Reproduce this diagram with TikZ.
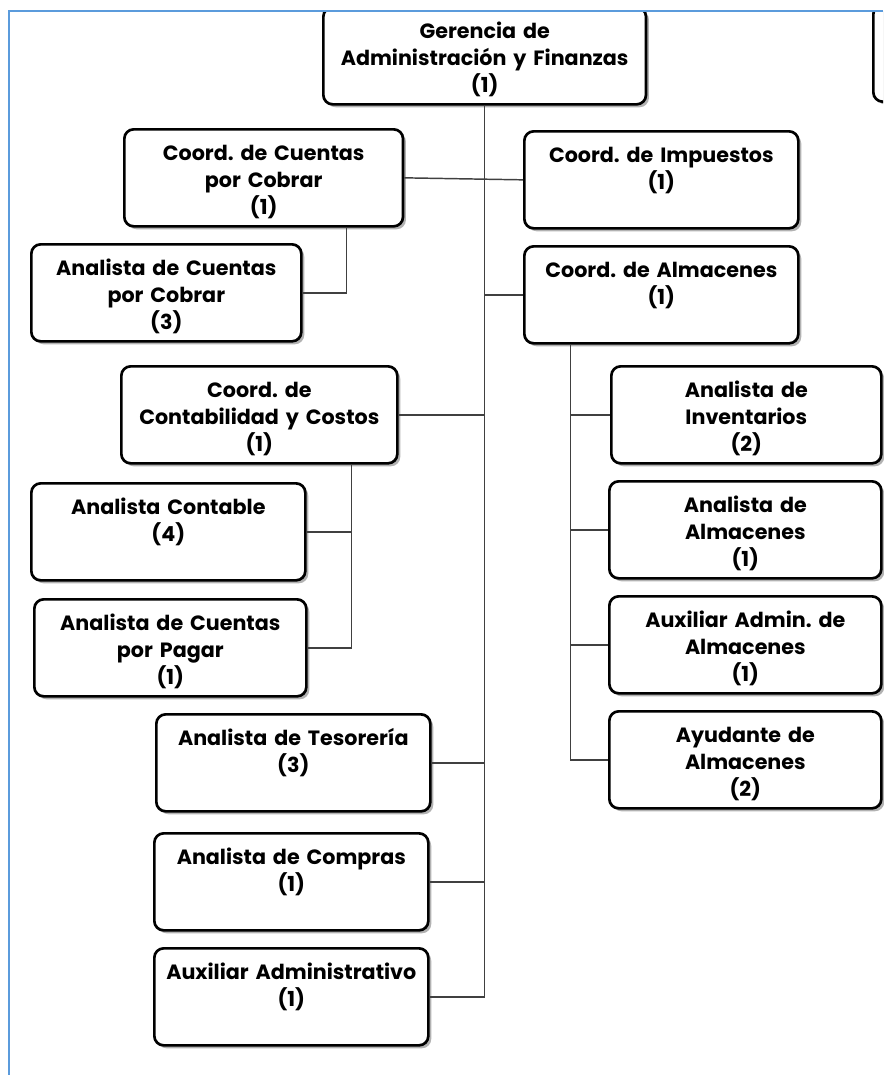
\documentclass[tikz,border=0pt]{standalone}
\usepackage{fontspec}
\setmainfont{Poppins}
\usepackage{tikz}
\usetikzlibrary{shadows}
\definecolor{framecol}{RGB}{91,155,220}
\frenchspacing

\begin{document}
\begin{tikzpicture}[x=0.75pt, y=-0.75pt]
% Define styles
\tikzstyle{box} = [rectangle, draw, line width=2pt, rounded corners=7pt, fill=white, anchor=north west, inner sep=0pt, minimum width=205.5pt, text width=200pt, align=center, text height=23.25pt, text depth=49.5pt, font=\bfseries\fontsize{15.5}{20.25}\selectfont, drop shadow={shadow xshift=2.2pt, shadow yshift=-2.2pt, fill=black!55, opacity=0.55}]
\tikzstyle{link} = [line width=1.1pt, black!75]
\tikzstyle{frame} = [line width=1.5pt, framecol]

\useasboundingbox (0,0) rectangle (883,1075);

% Top row (cut by the frame)
\begin{scope}
\clip (9,11) rectangle (883,1075);
\node [box, minimum width=242pt, text width=236pt] (ger) at (322,6) {Gerencia de\\Administración y Finanzas\\(1)};
\node [box, anchor=south west] (next) at (872,103) {};
\end{scope}

% Coordinations and analysts
\node [box, minimum width=209pt] (cxc) at (123,128) {Coord. de Cuentas\\por Cobrar\\(1)};
\node [box] (imp) at (523,130) {Coord. de Impuestos\\(1)};
\node [box, minimum width=202.5pt] (acxc) at (30,243) {Analista de Cuentas\\por Cobrar\\(3)};
\node [box] (alm) at (523,245) {Coord. de Almacenes\\(1)};
\node [box, minimum width=207pt] (cont) at (120,365) {Coord. de\\Contabilidad y Costos\\(1)};
\node [box, minimum width=202.5pt] (inv) at (610,365) {Analista de\\Inventarios\\(2)};
\node [box, minimum width=205.5pt] (acont) at (30,482) {Analista Contable\\(4)};
\node [box, minimum width=204pt] (alma) at (608,480) {Analista de\\Almacenes\\(1)};
\node [box, minimum width=204pt] (acxp) at (33,598) {Analista de Cuentas\\por Pagar\\(1)};
\node [box, minimum width=204pt] (auxalm) at (608,595) {Auxiliar Admin. de\\Almacenes\\(1)};
\node [box, minimum width=204pt] (ayud) at (608,710) {Ayudante de\\Almacenes\\(2)};
\node [box] (tes) at (155,713) {Analista de Tesorería\\(3)};
\node [box] (comp) at (153,832) {Analista de Compras\\(1)};
\node [box] (auxad) at (153,947) {Auxiliar Administrativo\\(1)};

% Connections
\coordinate (contdown) at ([xshift=69pt]cont.south);
\coordinate (almdown) at ([xshift=-68pt]alm.south);
\draw [link] (ger.south) -- (ger.south |- auxad.east);
\draw [link] (cxc.east) -- (imp.west);
\draw [link] ([xshift=62pt]cxc.south) |- (acxc.east);
\draw [link] (alm.west) -- (alm.west -| ger.south);
\draw [link] (cont.east) -- (cont.east -| ger.south);
\draw [link] (contdown) |- (acxp.east);
\draw [link] (acont.east) -- (acont.east -| contdown);
\draw [link] (almdown) |- (ayud.west);
\foreach \n in {inv, alma, auxalm}
  \draw [link] (\n.west) -- (\n.west -| almdown);
\foreach \n in {tes, comp, auxad}
  \draw [link] (\n.east) -- (\n.east -| ger.south);

% Frame
\draw [frame] (9,1075) -- (9,11) -- (883,11);

\end{tikzpicture}
\end{document}
